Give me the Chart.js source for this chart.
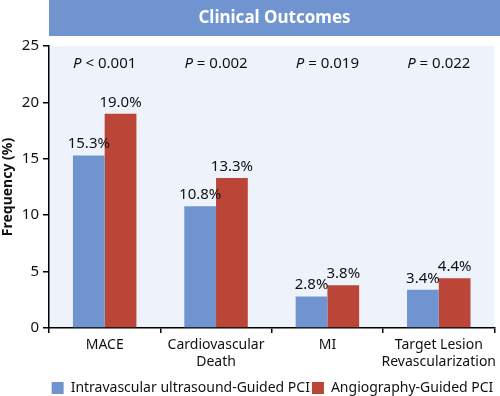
<!DOCTYPE html>
<html>
<head>
<meta charset="utf-8">
<script src="https://cdn.jsdelivr.net/npm/chart.js@4"></script>
<style>
  html, body { margin: 0; padding: 0; background: #fff; }
  #wrap { width: 500px; height: 396px; }
</style>
</head>
<body>
<div id="wrap"><canvas id="myChart" width="500" height="396"></canvas></div>
<script>
const categories = [['MACE'], ['Cardiovascular', 'Death'], ['MI'], ['Target Lesion', 'Revascularization']];
const ivusValues = [15.3, 10.8, 2.8, 3.4];
const angioValues = [19.0, 13.3, 3.8, 4.4];
const pValues = ['< 0.001', '= 0.002', '= 0.019', '= 0.022'];
const yTicks = [0, 5, 10, 15, 20, 25];

const FONT = '"Noto Sans", "Open Sans", sans-serif';

// title bar, plot background, p values and bar labels
const decorations = {
  id: 'decorations',
  afterLayout(chart) {
    // move legend down and centre it under the plot area
    const lg = chart.legend;
    const dx = (chart.chartArea.left + chart.width) / 2 - (lg.left + lg.right) / 2 - 2;
    lg.left += dx;
    lg.right += dx;
    lg.top += 9;
    lg.bottom += 9;
  },
  beforeDraw(chart) {
    const { ctx, chartArea } = chart;
    ctx.save();
    ctx.fillStyle = '#eef2fa';
    ctx.fillRect(chartArea.left, chartArea.top, chartArea.right - chartArea.left, chartArea.bottom - chartArea.top);
    ctx.fillStyle = '#7094d0';
    ctx.fillRect(chartArea.left, 0, chart.width - chartArea.left, 36);
    ctx.fillStyle = '#fff';
    ctx.font = 'bold 17px ' + FONT;
    ctx.textAlign = 'center';
    ctx.textBaseline = 'middle';
    ctx.fillText('Clinical Outcomes', (chartArea.left + chart.width) / 2, 18);
    ctx.restore();
  },
  afterDatasetsDraw(chart) {
    const { ctx } = chart;
    const xScale = chart.scales.x;
    ctx.save();
    ctx.fillStyle = '#111';
    ctx.textBaseline = 'middle';
    // p values
    pValues.forEach((p, i) => {
      const cx = xScale.getPixelForValue(i);
      ctx.font = 'italic 15px ' + FONT;
      const wP = ctx.measureText('P ').width;
      ctx.font = '15px ' + FONT;
      const wRest = ctx.measureText(p).width;
      const start = cx - (wP + wRest) / 2;
      ctx.textAlign = 'left';
      ctx.font = 'italic 15px ' + FONT;
      ctx.fillText('P ', start, 64);
      ctx.font = '15px ' + FONT;
      ctx.fillText(p, start + wP, 64);
    });
    // value labels
    ctx.font = '15px ' + FONT;
    ctx.textAlign = 'center';
    ctx.textBaseline = 'alphabetic';
    chart.data.datasets.forEach((ds, di) => {
      chart.getDatasetMeta(di).data.forEach((bar, i) => {
        ctx.fillText(ds.data[i].toFixed(1) + '%', bar.x, bar.y - 7);
      });
    });
    ctx.restore();
  }
};

const config = {
  type: 'bar',
  data: {
    labels: categories,
    datasets: [
      {
        label: 'Intravascular ultrasound-Guided PCI',
        data: ivusValues,
        backgroundColor: '#6f94d0',
        categoryPercentage: 0.57,
        barPercentage: 1.0,
      },
      {
        label: 'Angiography-Guided PCI',
        data: angioValues,
        backgroundColor: '#bb4537',
        categoryPercentage: 0.57,
        barPercentage: 1.0,
      },
    ],
  },
  options: {
    responsive: false,
    animation: false,
    layout: { padding: { top: 46, right: 0, left: 0, bottom: 0 } },
    plugins: {
      legend: {
        position: 'bottom',
        labels: {
          font: { family: FONT, size: 14 },
          color: '#111',
          boxWidth: 12,
          boxHeight: 12,
          padding: 2,
        },
      },
      tooltip: { enabled: false },
    },
    scales: {
      x: {
        afterFit(axis) {
          axis.height = 42;
        },
        grid: { display: true, drawOnChartArea: false, offset: true, tickLength: 5, color: '#000', lineWidth: 1.5 },
        border: { display: true, color: '#000', width: 1.5 },
        ticks: {
          font: { family: FONT, size: 14, lineHeight: 1.2 },
          color: '#111',
          padding: 4,
          maxRotation: 0,
          autoSkip: false,
        },
      },
      y: {
        min: 0,
        max: 25,
        afterBuildTicks(axis) {
          axis.ticks = yTicks.map(v => ({ value: v }));
        },
        afterFit(axis) {
          axis.width = 49;
        },
        grid: { display: true, drawOnChartArea: false, tickLength: 6, color: '#000', lineWidth: 1.5 },
        border: { display: true, color: '#000', width: 1.5 },
        ticks: { font: { family: FONT, size: 15 }, color: '#111', padding: 4 },
        title: {
          display: true,
          text: 'Frequency (%)',
          font: { family: FONT, size: 14, weight: 'bold' },
          color: '#111',
          padding: 0,
        },
      },
    },
  },
  plugins: [decorations],
};

const myChart = new Chart(document.getElementById('myChart'), config);
</script>
</body>
</html>
